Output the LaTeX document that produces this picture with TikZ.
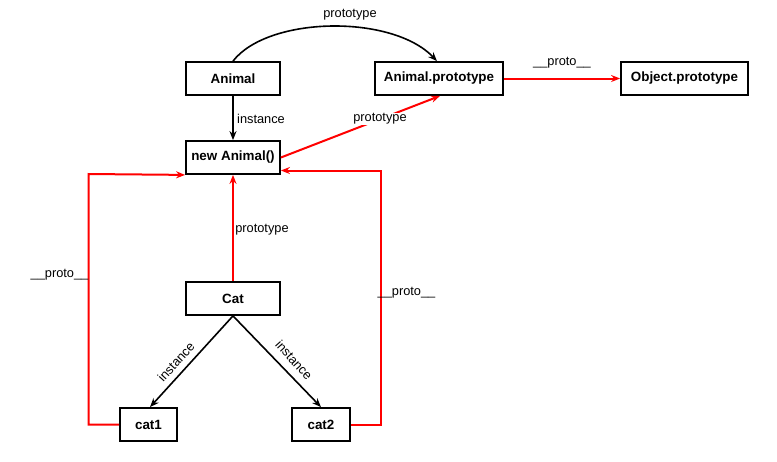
\documentclass[tikz,border=0pt]{standalone}
\usepackage{fontspec}
\setmainfont{Liberation Sans}
\usetikzlibrary{arrows.meta}
\begin{document}
\begin{tikzpicture}[x=1pt,y=-1pt,
  box/.style={draw=black,line width=1.8pt,inner sep=0pt,minimum height=33pt,font=\fontsize{13.4}{15}\selectfont\bfseries},
  lbl/.style={font=\fontsize{12.8}{14}\selectfont,inner sep=1pt},
  blk/.style={draw=black,line width=1.6pt,-{Stealth[length=9pt,width=7pt]}},
  redl/.style={draw=red,line width=2pt,-{Stealth[length=9pt,width=7pt]}}]
\useasboundingbox (0,0) rectangle (777,461);
\node[box,minimum width=94pt] (animal) at (233,78.5) {Animal};
\node[box,minimum width=128pt] (aproto) at (439,78.5) {Animal.prototype};
\node[box,minimum width=127pt] (oproto) at (684.5,78.5) {Object.prototype};
\node[box,minimum width=94pt] (newa) at (233,157.5) {new Animal()};
\node[box,minimum width=94pt] (cat) at (233,298.5) {Cat};
\node[box,minimum width=57pt] (cat1) at (148.5,424.5) {cat1};
\node[box,minimum width=58pt] (cat2) at (321,424.5) {cat2};
% Animal -> Animal.prototype curve
\draw[blk] (animal.north) .. controls (268,16) and (392,14) .. ([xshift=-2pt]aproto.north);
\node[lbl] (l1) at (350,15) {prototype};
% Animal.prototype -> Object.prototype
\draw[redl] (aproto.east) -- (oproto.west);
\node[lbl] (l2) at (562,63) {\_\_proto\_\_};
% Animal -> new Animal
\draw[blk] (animal.south) -- (newa.north);
\node[lbl] (l3) at (261,119) {instance};
% new Animal -> Animal.prototype
\draw[redl] (newa.east) -- ([xshift=1pt]aproto.south);
\node[lbl,fill=white] (l4) at (380,119) {prototype};
% Cat -> new Animal
\draw[redl] (cat.north) -- (newa.south);
\node[lbl] (l5) at (262,230) {prototype};
% Cat -> cat1, cat2
\draw[blk] (cat.south) -- ([xshift=1.5pt]cat1.north);
\node[lbl,rotate=48] (l6) at (176,362) {instance};
\draw[blk] (cat.south) -- (cat2.north);
\node[lbl,rotate=-48] (l7) at (294,360) {instance};
% cat1 -> new Animal
\coordinate (c1a) at (88.5,424.5);
\coordinate (c1b) at (88.5,174);
\draw[redl] (cat1.west) -- (c1a) -- (c1b) -- (newa.south west);
\node[lbl,anchor=east] (l8) at (89.5,275) {\_\_proto\_\_};
% cat2 -> new Animal
\coordinate (c2a) at (381,424.5);
\coordinate (c2b) at (381,170.5);
\draw[redl] (cat2.east) -- (c2a) -- (c2b) -- (newa.east |- c2b);
\node[lbl,anchor=west] (l9) at (376.5,293) {\_\_proto\_\_};
\end{tikzpicture}
\end{document}
